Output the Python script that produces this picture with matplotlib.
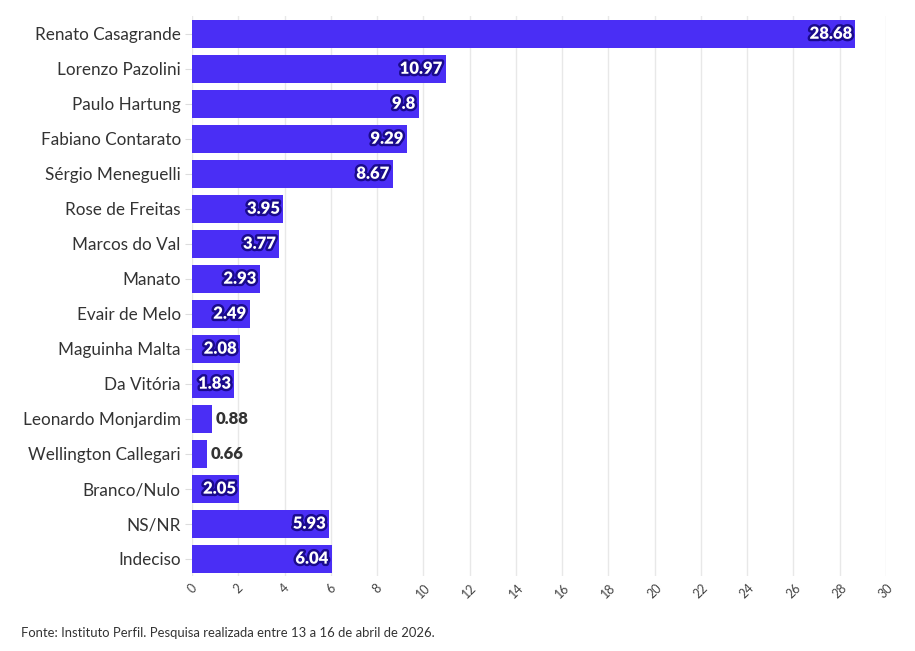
import matplotlib.pyplot as plt
import matplotlib.patheffects as pe

candidatos = ["Renato Casagrande", "Lorenzo Pazolini", "Paulo Hartung", "Fabiano Contarato",
              "Sérgio Meneguelli", "Rose de Freitas", "Marcos do Val", "Manato",
              "Evair de Melo", "Maguinha Malta", "Da Vitória", "Leonardo Monjardim",
              "Wellington Callegari", "Branco/Nulo", "NS/NR", "Indeciso"]
valores = [28.68, 10.97, 9.8, 9.29, 8.67, 3.95, 3.77, 2.93, 2.49, 2.08, 1.83, 0.88,
           0.66, 2.05, 5.93, 6.04]
rotulos = ["28.68", "10.97", "9.8", "9.29", "8.67", "3.95", "3.77", "2.93", "2.49",
           "2.08", "1.83", "0.88", "0.66", "2.05", "5.93", "6.04"]
xticks = list(range(0, 31, 2))

plt.rcParams['font.family'] = ['Lato', 'DejaVu Sans']

fig = plt.figure(figsize=(9.15, 6.51), dpi=100)
ax = fig.add_axes([0.2098, 0.115, 0.7585, 0.86])

pos = list(range(len(candidatos)))
ax.barh(pos, valores, height=0.8, color="#4a2ef5", zorder=2)
ax.set_ylim(len(candidatos) - 0.5, -0.5)
ax.set_xlim(0, 30)
ax.set_yticks(pos)
ax.set_yticklabels(candidatos, fontsize=12.3, color="#333333")
ax.set_xticks(xticks)
ax.set_xticklabels([str(t) for t in xticks], rotation=45, fontsize=9, color="#444444",
                   ha="center", va="top")
ax.tick_params(axis="y", length=5, color="#dddddd", pad=3)
ax.tick_params(axis="x", length=0, pad=4)
ax.grid(axis="x", color="#e8e8e8", linewidth=1, zorder=0)
for s in ax.spines.values():
    s.set_visible(False)

for i, (v, r) in enumerate(zip(valores, rotulos)):
    if v > 1.5:
        ax.text(v - 0.15, i, r, ha="right", va="center", fontsize=12, fontweight="heavy",
                color="white", zorder=3,
                path_effects=[pe.withStroke(linewidth=3.5, foreground="#1a0a8c")])
    else:
        ax.text(v + 0.15, i, r, ha="left", va="center", fontsize=12, fontweight="heavy",
                color="#333333", zorder=3)

fig.text(0.023, 0.022, "Fonte: Instituto Perfil. Pesquisa realizada entre 13 a 16 de abril de 2026.",
         fontsize=9.4, color="#333333")

plt.savefig("out.png", dpi=100)
